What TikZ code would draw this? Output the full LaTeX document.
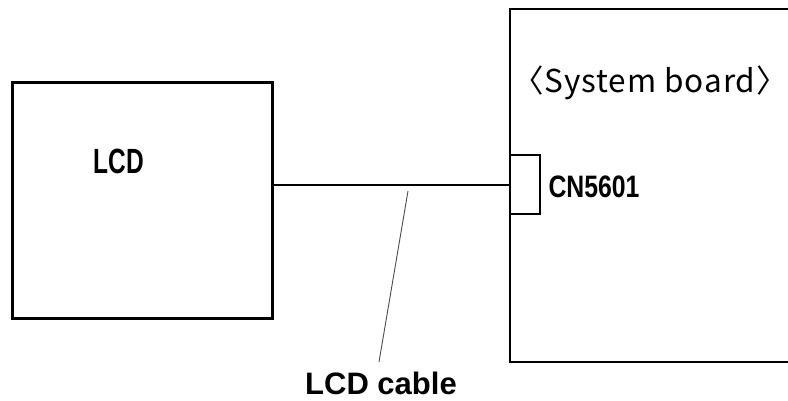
\documentclass[tikz,border=0pt]{standalone}
\usepackage{fontspec}
\setmainfont{Liberation Sans}
\newfontfamily\jpfont[LetterSpace=3]{Noto Sans CJK JP}
\begin{document}
\begin{tikzpicture}[x=1pt,y=-1pt,
  box/.style={draw=black,line width=3pt},
  bbox/.style={draw=black,line width=2.4pt},
  wire/.style={draw=black,line width=2.4pt},
  leader/.style={draw=black!70,line width=0.9pt},
  lbl/.style={inner sep=0pt,anchor=center}]
\useasboundingbox (0,0) rectangle (788,400);
\fill[white] (0,0) rectangle (788,400);
% LCD box
\draw[box] (12,82) rectangle (272,318);
\coordinate (lcdR) at (272,185);
% system board (open to the right edge)
\draw[bbox] (800,9) -- (510,9) -- (510,362) -- (800,362);
% connector
\draw[bbox] (510,155) rectangle (540,214);
\coordinate (cnL) at (510,185);
\draw[wire] (lcdR) -- (cnL);
% labels
\node[lbl] (lcd) at (119,161) {\scalebox{0.7}[1]{\fontsize{35}{35}\selectfont\bfseries LCD}};
\node[lbl] (cn) at (594,187) {\scalebox{0.8}[1]{\fontsize{31}{31}\selectfont\bfseries CN5601}};
\node[lbl] (sb) at (650,83) {\jpfont\fontsize{31.5}{31.5}\selectfont 〈System board〉};
\node[lbl] (cab) at (381,383) {\fontsize{31}{31}\selectfont\bfseries LCD cable};
\coordinate (ltop) at (408,191);
\coordinate (lbot) at (379,362);
\draw[leader] (ltop) -- (lbot);
\end{tikzpicture}
\end{document}
